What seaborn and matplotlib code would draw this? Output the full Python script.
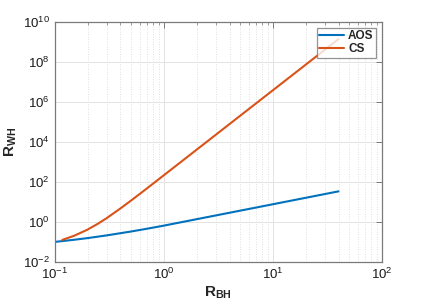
import numpy as np
import pandas as pd
import matplotlib
matplotlib.use("Agg")
import matplotlib.pyplot as plt
import matplotlib.ticker as mticker
import seaborn as sns

# values (log-log)
aos_x = [0.1, 0.15, 0.2, 0.3, 0.5, 0.7, 1, 1.5, 2, 3, 5, 7, 10, 20, 30, 40]
aos_y = [0.1, 0.1276, 0.1552, 0.2123, 0.3311, 0.456, 0.6516, 1.005, 1.368,
         2.109, 3.64, 5.21, 7.64, 16.03, 24.7, 33.7]

cs_x = [0.117, 0.15, 0.2, 0.25, 0.3, 0.4, 0.5, 0.6, 0.8, 1, 1.5, 2, 3, 5, 7,
        10, 15, 20, 30, 40]
cs_y = [0.126, 0.2018, 0.414, 0.828, 1.567, 4.74, 11.72, 24.9, 83.6, 215.8,
        1208, 4102, 22961, 2.014e5, 8.41e5, 3.83e6, 2.14e7, 7.28e7, 4.07e8,
        1.38e9]

series_names = ["AOS", "CS"]
series_colors = ["#0072BD", "#D95319"]

x_ticks = [1e-1, 1e0, 1e1, 1e2]
y_ticks = [1e-2, 1e0, 1e2, 1e4, 1e6, 1e8, 1e10]

df = pd.concat([
    pd.DataFrame({"R_BH": aos_x, "R_WH": aos_y, "curve": "AOS"}),
    pd.DataFrame({"R_BH": cs_x, "R_WH": cs_y, "curve": "CS"}),
], ignore_index=True)

sns.set_style("white")
plt.rcParams["font.family"] = ["Liberation Sans", "DejaVu Sans"]
plt.rcParams["mathtext.fontset"] = "custom"
plt.rcParams["mathtext.rm"] = "Liberation Sans:bold"
plt.rcParams["mathtext.bf"] = "Liberation Sans:bold"
plt.rcParams["mathtext.it"] = "Liberation Sans:bold:italic"

fig = plt.figure(figsize=(4.22, 3.0), dpi=100)
ax = fig.add_axes([0.130, 0.127, 0.775, 0.800])

sns.lineplot(data=df, x="R_BH", y="R_WH", hue="curve", hue_order=series_names,
             palette=series_colors, linewidth=1.5, ax=ax, sort=False,
             estimator=None)

ax.set_xscale("log")
ax.set_yscale("log")
ax.set_xlim(1e-1, 1e2)
ax.set_ylim(1e-2, 1e10)
ax.set_xticks(x_ticks)
ax.set_yticks(y_ticks)
ax.xaxis.set_minor_locator(mticker.LogLocator(base=10, subs=np.arange(2, 10)))
ax.xaxis.set_minor_formatter(mticker.NullFormatter())
ax.yaxis.set_minor_locator(mticker.NullLocator())

ax.grid(True, which="major", color="#e3e3e3", linewidth=0.7, linestyle="-")
ax.grid(True, which="minor", axis="x", color="#d6d6d6", linewidth=0.6,
        linestyle=(0, (1, 2)))
ax.set_axisbelow(True)

for s in ax.spines.values():
    s.set_visible(True)
    s.set_color("#7a7a7a")
    s.set_linewidth(0.9)

ax.tick_params(which="both", direction="in", top=True, right=True,
               colors="#7a7a7a", labelcolor="#1a1a1a", labelsize=9.5)
ax.tick_params(which="major", length=4, width=0.7)
ax.tick_params(which="minor", length=2, width=0.5)

ax.set_xlabel(r"$\mathbf{R_{BH}}$", fontsize=11, labelpad=2)
ax.set_ylabel(r"$\mathbf{R_{WH}}$", fontsize=11, labelpad=3)

leg = ax.legend(loc="upper right", fontsize=8.5, frameon=True, fancybox=False,
                borderaxespad=0.5, handlelength=2.1, handletextpad=0.35,
                borderpad=0.2, labelspacing=0.1, title=None)
leg.get_frame().set_edgecolor("#7a7a7a")
leg.get_frame().set_linewidth(0.9)
for t in leg.get_texts():
    t.set_fontweight("bold")
for h in leg.get_lines():
    h.set_linewidth(1.5)

fig.savefig("out.png", dpi=100)
